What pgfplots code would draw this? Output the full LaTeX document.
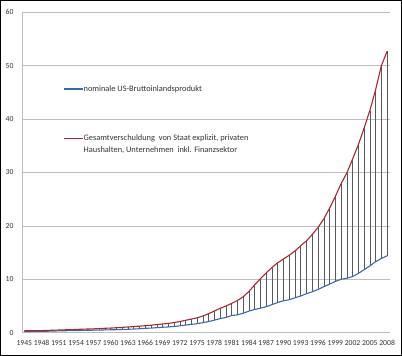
\documentclass[border=0pt]{standalone}
\usepackage{pgfplots}
\pgfplotsset{compat=1.18}
\usepackage{pgfplotstable}
\usepackage{fontspec}
\setmainfont{Carlito}
\definecolor{gdpblue}{RGB}{60,105,165}
\definecolor{debtred}{RGB}{168,38,50}
\definecolor{gridgray}{RGB}{190,190,190}
\definecolor{txtgray}{RGB}{50,50,50}
\pgfplotstableread{
year gdp debt
1945 0.228 0.36
1946 0.227 0.36
1947 0.250 0.38
1948 0.275 0.40
1949 0.275 0.42
1950 0.300 0.47
1951 0.347 0.50
1952 0.367 0.54
1953 0.389 0.57
1954 0.391 0.60
1955 0.425 0.66
1956 0.449 0.69
1957 0.474 0.72
1958 0.482 0.77
1959 0.522 0.83
1960 0.543 0.87
1961 0.563 0.93
1962 0.605 1.00
1963 0.638 1.07
1964 0.686 1.15
1965 0.744 1.23
1966 0.815 1.31
1967 0.862 1.40
1968 0.943 1.52
1969 1.019 1.63
1970 1.075 1.74
1971 1.168 1.90
1972 1.282 2.09
1973 1.429 2.32
1974 1.549 2.55
1975 1.689 2.79
1976 1.878 3.12
1977 2.086 3.55
1978 2.357 4.06
1979 2.632 4.56
1980 2.863 4.99
1981 3.211 5.48
1982 3.345 6.02
1983 3.638 6.72
1984 4.041 7.72
1985 4.347 8.95
1986 4.590 10.1
1987 4.870 11.2
1988 5.253 12.2
1989 5.658 13.1
1990 5.980 13.8
1991 6.174 14.5
1992 6.539 15.3
1993 6.879 16.3
1994 7.309 17.2
1995 7.664 18.4
1996 8.100 19.7
1997 8.609 21.3
1998 9.089 23.3
1999 9.600 25.5
2000 10.00 27.9
2001 10.20 29.9
2002 10.50 32.5
2003 11.10 35.2
2004 11.80 38.3
2005 12.50 41.6
2006 13.30 45.5
2007 13.90 50.0
2008 14.40 52.7
}\datatable
\begin{document}
\begin{tikzpicture}[x=1bp,y=1bp]
\path[use as bounding box] (0,0) rectangle (402,356);
\draw[black,line width=1bp] (0.5,0.5) rectangle (401.5,355.5);
\begin{axis}[
  at={(22bp,23.3bp)}, anchor=south west,
  scale only axis,
  width=368bp, height=320.4bp,
  xmin=1944.6, xmax=2008.5,
  ymin=0, ymax=60,
  xtick={1945,1948,...,2008},
  ytick={0,10,...,60},
  axis lines*=left,
  axis line style={gridgray, line width=0.8bp, -},
  ymajorgrids,
  grid style={gridgray, line width=0.8bp},
  major tick length=0pt,
  tick style={draw=none},
  /pgf/number format/assume math mode=true,
  /pgf/number format/1000 sep={},
  ticklabel style={font=\fontsize{7.7}{9}\selectfont, text=txtgray},
  xticklabel style={yshift=-4bp, inner xsep=0pt},
  yticklabel style={xshift=-5bp},
  clip=false,
]
\addplot[draw=none, forget plot,
  error bars/.cd, y dir=minus, y explicit,
  error mark=none,
  error bar style={black!65, line width=0.5bp}]
  table[x=year, y=debt, y error expr=\thisrow{debt}-\thisrow{gdp}] {\datatable};
\addplot[gdpblue, line width=1.1bp] table[x=year, y=gdp] {\datatable};
\addplot[debtred, line width=1.1bp] table[x=year, y=debt] {\datatable};
% legend
\draw[gdpblue, line width=1.1bp] (rel axis cs:0.114,0.7606) -- (rel axis cs:0.165,0.7606);
\node[anchor=west, inner sep=0pt, text=txtgray, font=\fontsize{8.4}{10}\selectfont]
  at (rel axis cs:0.167,0.7606) {nominale US-Bruttoinlandsprodukt};
\draw[debtred, line width=1.1bp] (rel axis cs:0.114,0.6067) -- (rel axis cs:0.165,0.6067);
\node[anchor=west, inner sep=0pt, text=txtgray, font=\fontsize{8.4}{10}\selectfont]
  at (rel axis cs:0.167,0.6067) {Gesamtverschuldung\ \ von Staat explizit, privaten};
\node[anchor=west, inner sep=0pt, text=txtgray, font=\fontsize{8.4}{10}\selectfont]
  at (rel axis cs:0.167,0.5702) {Haushalten, Unternehmen\ \ inkl. Finanzsektor};
\end{axis}
\end{tikzpicture}
\end{document}
